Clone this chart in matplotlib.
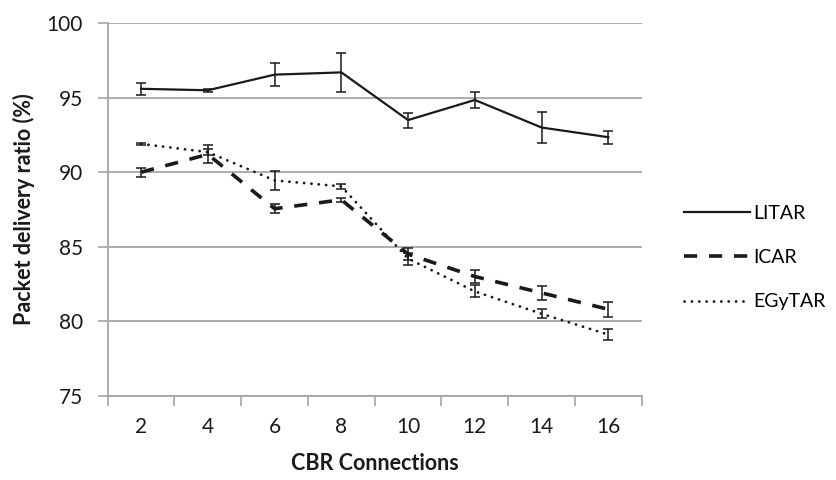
import matplotlib
matplotlib.use("Agg")
import matplotlib.pyplot as plt
import numpy as np

plt.rcParams['font.family'] = ['Lato', 'DejaVu Sans']
plt.rcParams['lines.scale_dashes'] = False

# data
connections = ['2', '4', '6', '8', '10', '12', '14', '16']
litar = [95.6, 95.5, 96.55, 96.7, 93.5, 94.85, 93.0, 92.35]
litar_err = [0.4, 0.1, 0.75, 1.3, 0.5, 0.55, 1.05, 0.45]
icar = [90.0, 91.2, 87.55, 88.15, 84.5, 83.0, 81.9, 80.8]
icar_err = [0.3, 0.6, 0.3, 0.15, 0.4, 0.45, 0.45, 0.5]
egytar = [91.9, 91.35, 89.45, 89.05, 84.2, 82.0, 80.5, 79.1]
egytar_err = [0.05, 0.2, 0.65, 0.15, 0.4, 0.4, 0.3, 0.35]

x = np.arange(1, len(connections) + 1)

fig = plt.figure(figsize=(8.37, 4.8), dpi=100)
ax = fig.add_axes([0.1287, 0.1756, 0.638, 0.776])

grid_col = '#a6a6a6'
txt_col = '#1a1a1a'
err_kw = dict(fmt='none', ecolor=txt_col, elinewidth=1.1, capsize=3.8, capthick=1.1, zorder=4)

ax.plot(x, litar, color=txt_col, lw=1.6, label='LITAR', zorder=3)
ax.errorbar(x, litar, yerr=litar_err, **err_kw)

ax.plot(x, icar, color=txt_col, lw=2.6, dashes=(9.5, 8.5), label='ICAR', zorder=3)
ax.errorbar(x, icar, yerr=icar_err, **err_kw)

ax.plot(x, egytar, color=txt_col, lw=2.0, dashes=(0.1, 5.2),
        dash_capstyle='round', label='EGyTAR', zorder=3)
ax.errorbar(x, egytar, yerr=egytar_err, **err_kw)

ax.set_xlim(0.5, len(connections) + 0.5)
ax.set_ylim(75, 100)
ax.set_yticks([75, 80, 85, 90, 95, 100])
ax.set_xticks(x)
ax.set_xticklabels(connections)
ax.set_xticks(np.arange(0.5, len(connections) + 1), minor=True)
ax.tick_params(axis='x', which='major', length=0, labelsize=15, pad=15, colors=txt_col)
ax.tick_params(axis='x', which='minor', length=7, width=1.2, color=grid_col, direction='out')
ax.tick_params(axis='y', length=7, width=1.2, color=grid_col, labelsize=15, pad=11, labelcolor=txt_col)

ax.grid(axis='y', color=grid_col, lw=1.3, zorder=0)
for s in ['top', 'right']:
    ax.spines[s].set_visible(False)
for s in ['left', 'bottom']:
    ax.spines[s].set_color(grid_col)
    ax.spines[s].set_linewidth(1.3)

ax.set_xlabel('CBR Connections', fontsize=15.5, fontweight='bold', labelpad=12, color=txt_col)
ax.set_ylabel('Packet delivery ratio (%)', fontsize=15.5, fontweight='bold', labelpad=8, color=txt_col)

fig.legend(loc='center left', bbox_to_anchor=(0.817, 0.463), frameon=False,
           borderpad=0, borderaxespad=0,
           fontsize=14, handlelength=3.4, handletextpad=0.15, labelspacing=1.4)

plt.savefig('out.png', dpi=100)
